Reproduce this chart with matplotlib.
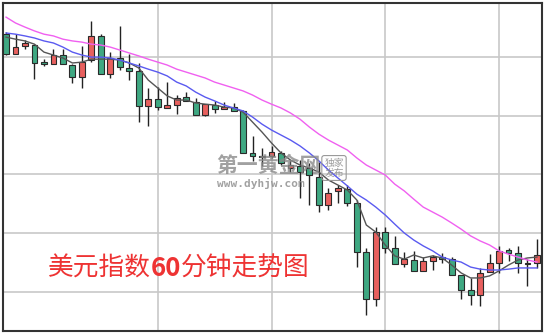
import numpy as np
import matplotlib.pyplot as plt

plt.rcParams['font.family'] = ['Noto Sans CJK SC', 'DejaVu Sans']

# 美元指数 60分钟K线 (开/高/低/收)
opens = [97.077, 97.009, 97.037, 97.040, 96.981, 96.975, 97.006, 96.972, 96.931, 96.989,
         97.071, 96.941, 96.996, 96.962, 96.952, 96.833, 96.856, 96.826, 96.836, 96.863,
         96.846, 96.802, 96.836, 96.822, 96.829, 96.816, 96.673, 96.663, 96.663, 96.673,
         96.622, 96.629, 96.622, 96.591, 96.496, 96.544, 96.550, 96.503, 96.336, 96.176,
         96.404, 96.350, 96.295, 96.309, 96.272, 96.306, 96.319, 96.312, 96.258, 96.207,
         96.190, 96.268, 96.299, 96.343, 96.333, 96.299, 96.299]
highs = [97.084, 97.077, 97.057, 97.043, 96.992, 97.026, 97.026, 96.975, 97.037, 97.122,
         97.077, 97.016, 97.105, 97.009, 96.979, 96.894, 96.897, 96.914, 96.870, 96.880,
         96.860, 96.839, 96.850, 96.846, 96.843, 96.819, 96.731, 96.690, 96.697, 96.680,
         96.649, 96.649, 96.639, 96.642, 96.554, 96.564, 96.564, 96.513, 96.350, 96.421,
         96.421, 96.391, 96.336, 96.340, 96.319, 96.326, 96.333, 96.319, 96.258, 96.248,
         96.282, 96.329, 96.357, 96.350, 96.357, 96.312, 96.380]
lows = [97.006, 97.009, 97.026, 96.924, 96.969, 96.975, 96.975, 96.911, 96.894, 96.982,
        96.941, 96.928, 96.955, 96.921, 96.778, 96.765, 96.819, 96.826, 96.805, 96.850,
        96.802, 96.799, 96.809, 96.822, 96.816, 96.673, 96.646, 96.629, 96.656, 96.632,
        96.608, 96.520, 96.496, 96.472, 96.479, 96.503, 96.493, 96.285, 96.122, 96.153,
        96.333, 96.295, 96.285, 96.272, 96.272, 96.275, 96.299, 96.258, 96.176, 96.156,
        96.153, 96.268, 96.265, 96.306, 96.265, 96.221, 96.282]
closes = [97.009, 97.033, 97.047, 96.979, 96.977, 97.006, 96.975, 96.931, 96.982, 97.071,
          96.941, 96.996, 96.965, 96.952, 96.833, 96.856, 96.829, 96.836, 96.860, 96.850,
          96.802, 96.839, 96.822, 96.829, 96.816, 96.673, 96.663, 96.659, 96.676, 96.639,
          96.632, 96.608, 96.598, 96.496, 96.537, 96.554, 96.503, 96.336, 96.176, 96.404,
          96.350, 96.295, 96.312, 96.272, 96.306, 96.319, 96.312, 96.258, 96.207, 96.190,
          96.265, 96.299, 96.340, 96.333, 96.299, 96.295, 96.326]

# 均线 (读图所得)
ma_short = [97.067, 97.060, 97.054, 97.043, 97.016, 97.006, 96.996, 96.979, 96.982, 96.992,
            96.992, 96.992, 96.989, 96.979, 96.962, 96.921, 96.894, 96.867, 96.853, 96.853,
            96.843, 96.839, 96.836, 96.829, 96.826, 96.812, 96.778, 96.744, 96.707, 96.673,
            96.649, 96.632, 96.622, 96.608, 96.581, 96.564, 96.547, 96.513, 96.428, 96.404,
            96.360, 96.323, 96.312, 96.326, 96.316, 96.323, 96.316, 96.292, 96.265, 96.248,
            96.248, 96.255, 96.272, 96.292, 96.309, 96.316, 96.319]
ma_mid = [97.081, 97.077, 97.071, 97.064, 97.054, 97.047, 97.033, 97.016, 97.006, 96.999,
          96.999, 96.996, 96.989, 96.979, 96.969, 96.958, 96.948, 96.935, 96.914, 96.901,
          96.880, 96.863, 96.850, 96.836, 96.826, 96.816, 96.795, 96.771, 96.751, 96.734,
          96.717, 96.697, 96.673, 96.646, 96.615, 96.588, 96.561, 96.533, 96.513, 96.489,
          96.462, 96.431, 96.401, 96.377, 96.357, 96.340, 96.319, 96.309, 96.302, 96.285,
          96.278, 96.275, 96.275, 96.278, 96.282, 96.282, 96.282]
ma_long = [97.135, 97.115, 97.101, 97.088, 97.077, 97.071, 97.060, 97.054, 97.050, 97.043,
           97.040, 97.033, 97.023, 97.013, 97.003, 96.992, 96.982, 96.972, 96.958, 96.948,
           96.938, 96.928, 96.914, 96.904, 96.894, 96.884, 96.870, 96.853, 96.839, 96.826,
           96.809, 96.788, 96.761, 96.737, 96.717, 96.700, 96.683, 96.656, 96.632, 96.615,
           96.598, 96.567, 96.544, 96.516, 96.489, 96.472, 96.455, 96.435, 96.414, 96.391,
           96.374, 96.360, 96.340, 96.329, 96.319, 96.309, 96.302]

price_grid = [96.2, 96.4, 96.6, 96.8, 97.0]
session_marks = [16, 28, 40, 52]

title_parts = ["美元指数", "60", "分钟走势图"]
title_weights = ["normal", "bold", "normal"]

UP = "#e8605e"
DOWN = "#3fa882"

fig = plt.figure(figsize=(5.5, 3.35), dpi=100)
ax = fig.add_axes([3 / 550, 4 / 335, 539 / 550, 328 / 335])

o = np.array(opens)
c = np.array(closes)
x = np.arange(len(o))
rising = c >= o
colors = np.where(rising, UP, DOWN)

ax.vlines(x, lows, highs, color="#222222", linewidth=1.0, zorder=2)
ax.bar(x, np.abs(c - o), bottom=np.minimum(o, c), width=0.62,
       color=colors, edgecolor="#2a2a2a", linewidth=0.8, zorder=3)

ax.plot(x, ma_short, color="#555555", linewidth=1.0, zorder=4)
ax.plot(x, ma_mid, color="#5a5af0", linewidth=1.0, zorder=4)
ax.plot(x, ma_long, color="#f060f0", linewidth=1.0, zorder=4)

ax.set_xlim(-0.32, 56.53)
ax.set_ylim(96.0676, 97.183)
ax.set_xticks(session_marks)
ax.set_yticks(price_grid)
ax.tick_params(length=0, labelbottom=False, labelleft=False)
ax.grid(True, color="#c8c8c8", linewidth=1.2, zorder=0)
ax.set_axisbelow(True)
for s in ax.spines.values():
    s.set_color("#333333")
    s.set_linewidth(1.5)

# 水印
fig.text(268 / 550, 1 - 166 / 335, "第一黄金网", fontsize=15, fontweight="bold",
         color="#8a8a8a", alpha=0.8, ha="center", va="center")
fig.text(261 / 550, 1 - 183 / 335, "www.dyhjw.com", fontsize=8, fontweight="bold",
         family="DejaVu Sans Mono", color="#8a8a8a", alpha=0.8, ha="center", va="center")
fig.text(334 / 550, 1 - 168 / 335, "独家\n发布", fontsize=7, color="#888888", alpha=0.85,
         ha="center", va="center", linespacing=1.0,
         bbox=dict(boxstyle="round,pad=0.25", fc="none", ec="#999999", lw=0.8))

# 标题
renderer = fig.canvas.get_renderer()
xpos = 48
for part, weight in zip(title_parts, title_weights):
    t = fig.text(xpos / 550, 1 - 269 / 335, part, fontsize=18.5, fontweight=weight,
                 color="#ee3333", ha="left", va="center")
    xpos = t.get_window_extent(renderer).x1

fig.savefig("out.png", dpi=100)
